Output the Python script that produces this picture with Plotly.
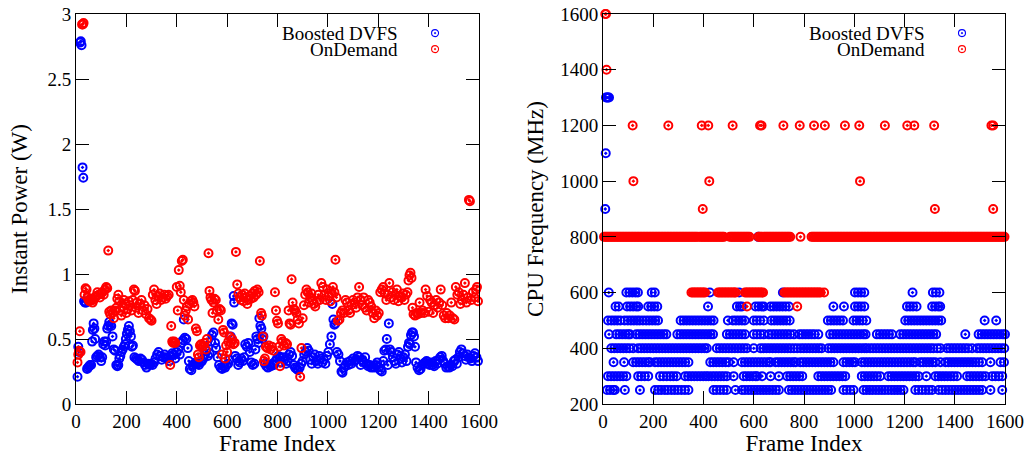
import plotly.graph_objects as go

# ---------------- Left panel: instant power (W) per frame ----------------
blue_power_frames = [
    6, 9, 12, 16, 19, 22, 26, 29, 32, 36,
    40, 44, 48, 52, 56, 60, 64, 67, 70, 73,
    76, 80, 85, 90, 95, 100, 104, 108, 112, 116,
    120, 124, 128, 132, 136, 140, 145, 150, 155, 160,
    164, 168, 172, 176, 180, 185, 190, 195, 198, 202,
    206, 210, 214, 218, 222, 226, 232, 238, 244, 250,
    256, 262, 268, 274, 280, 286, 292, 298, 304, 310,
    316, 322, 328, 334, 340, 346, 352, 358, 364, 370,
    376, 382, 388, 394, 400, 406, 412, 418, 424, 428,
    432, 438, 444, 448, 452, 458, 464, 470, 476, 482,
    488, 494, 500, 506, 512, 518, 524, 530, 536, 540,
    546, 552, 556, 562, 568, 574, 580, 586, 592, 598,
    604, 610, 614, 618, 622, 626, 628, 632, 638, 644,
    650, 656, 662, 668, 672, 678, 684, 690, 696, 702,
    708, 712, 716, 720, 724, 728, 732, 736, 740, 744,
    750, 756, 762, 768, 774, 780, 786, 792, 798, 804,
    810, 816, 822, 828, 834, 840, 846, 852, 858, 864,
    870, 876, 882, 888, 894, 900, 906, 912, 918, 924,
    930, 936, 942, 948, 954, 960, 966, 972, 978, 984,
    990, 996, 1002, 1008, 1014, 1018, 1022, 1026, 1030, 1036,
    1042, 1048, 1054, 1058, 1064, 1070, 1076, 1082, 1088, 1094,
    1100, 1106, 1112, 1118, 1124, 1130, 1136, 1142, 1148, 1154,
    1160, 1166, 1172, 1178, 1184, 1190, 1196, 1202, 1208, 1214,
    1220, 1224, 1230, 1234, 1238, 1242, 1246, 1252, 1258, 1264,
    1270, 1276, 1282, 1288, 1294, 1300, 1306, 1312, 1318, 1322,
    1326, 1330, 1334, 1338, 1342, 1346, 1350, 1356, 1362, 1368,
    1374, 1380, 1386, 1392, 1398, 1404, 1410, 1416, 1422, 1428,
    1434, 1440, 1446, 1452, 1458, 1464, 1470, 1476, 1482, 1488,
    1494, 1500, 1506, 1512, 1518, 1524, 1530, 1536, 1542, 1548,
    1554, 1560, 1566, 1572, 1578, 1584, 1590, 1596,
]
blue_power_watts = [
    0.21, 0.44, 0.40, 2.78, 2.79, 2.76, 1.82, 1.74, 0.79, 0.78,
    0.78, 0.27, 0.28, 0.29, 0.30, 0.30, 0.48, 0.57, 0.62, 0.58,
    0.50, 0.36, 0.37, 0.38, 0.36, 0.33, 0.36, 0.46, 0.48, 0.45,
    0.48, 0.58, 0.60, 0.63, 0.61, 0.60, 0.52, 0.42, 0.41, 0.30,
    0.29, 0.30, 0.35, 0.37, 0.40, 0.42, 0.44, 0.46, 0.50, 0.54,
    0.57, 0.60, 0.56, 0.52, 0.44, 0.45, 0.36, 0.35, 0.34, 0.33,
    0.35, 0.34, 0.32, 0.30, 0.28, 0.31, 0.30, 0.31, 0.30, 0.32,
    0.35, 0.38, 0.40, 0.37, 0.34, 0.36, 0.38, 0.36, 0.35, 0.33,
    0.37, 0.39, 0.38, 0.35, 0.40, 0.42, 0.38, 0.47, 0.49, 0.65,
    0.51, 0.50, 0.43, 0.33, 0.27, 0.26, 0.30, 0.31, 0.32, 0.31,
    0.30, 0.32, 0.33, 0.35, 0.38, 0.41, 0.37, 0.39, 0.48, 0.53,
    0.55, 0.47, 0.43, 0.36, 0.30, 0.28, 0.27, 0.29, 0.28, 0.30,
    0.31, 0.34, 0.52, 0.62, 0.61, 0.83, 0.78, 0.37, 0.35, 0.30,
    0.32, 0.35, 0.33, 0.36, 0.46, 0.44, 0.47, 0.40, 0.32, 0.30,
    0.31, 0.42, 0.52, 0.50, 0.47, 0.66, 0.60, 0.58, 0.50, 0.52,
    0.31, 0.29, 0.28, 0.30, 0.29, 0.31, 0.30, 0.33, 0.35, 0.37,
    0.36, 0.32, 0.36, 0.34, 0.31, 0.33, 0.38, 0.40, 0.37, 0.30,
    0.28, 0.27, 0.26, 0.28, 0.31, 0.33, 0.38, 0.40, 0.43, 0.41,
    0.34, 0.31, 0.36, 0.38, 0.33, 0.31, 0.37, 0.35, 0.32, 0.34,
    0.31, 0.37, 0.40, 0.46, 0.52, 0.77, 0.65, 0.61, 0.62, 0.40,
    0.38, 0.33, 0.25, 0.24, 0.28, 0.30, 0.32, 0.30, 0.33, 0.31,
    0.35, 0.33, 0.34, 0.37, 0.36, 0.30, 0.34, 0.32, 0.36, 0.31,
    0.29, 0.30, 0.28, 0.29, 0.28, 0.30, 0.32, 0.28, 0.26, 0.25,
    0.33, 0.41, 0.42, 0.50, 0.30, 0.62, 0.42, 0.40, 0.36, 0.33,
    0.31, 0.38, 0.40, 0.35, 0.32, 0.36, 0.38, 0.33, 0.44, 0.47,
    0.46, 0.53, 0.55, 0.55, 0.52, 0.44, 0.32, 0.28, 0.26, 0.27,
    0.30, 0.31, 0.32, 0.33, 0.31, 0.30, 0.32, 0.30, 0.29, 0.33,
    0.31, 0.34, 0.36, 0.37, 0.33, 0.31, 0.28, 0.29, 0.28, 0.30,
    0.29, 0.33, 0.34, 0.31, 0.36, 0.40, 0.42, 0.39, 0.37, 0.34,
    0.38, 0.36, 0.35, 0.33, 0.37, 0.39, 0.36, 0.33,
]

red_power_frames = [
    6, 9, 12, 15, 18, 24, 27, 30, 34, 38,
    42, 46, 50, 54, 58, 62, 66, 70, 75, 80,
    85, 90, 95, 100, 105, 110, 115, 120, 124, 128,
    132, 136, 140, 145, 150, 155, 160, 164, 168, 172,
    176, 180, 185, 190, 195, 200, 205, 210, 215, 220,
    225, 230, 234, 238, 242, 248, 254, 260, 266, 272,
    278, 284, 290, 296, 300, 305, 310, 315, 320, 326,
    332, 338, 344, 350, 356, 362, 368, 374, 378, 382,
    386, 390, 394, 400, 404, 408, 412, 416, 420, 424,
    428, 432, 436, 440, 445, 450, 456, 462, 466, 470,
    476, 480, 484, 488, 492, 496, 500, 505, 510, 515,
    520, 526, 530, 534, 538, 542, 546, 550, 555, 560,
    565, 570, 575, 580, 584, 588, 592, 596, 600, 605,
    610, 615, 620, 625, 630, 635, 640, 645, 650, 655,
    660, 665, 670, 675, 680, 685, 690, 695, 700, 705,
    710, 715, 720, 725, 730, 735, 738, 742, 746, 750,
    754, 760, 766, 772, 778, 784, 790, 794, 798, 802,
    806, 810, 815, 820, 826, 832, 838, 844, 848, 852,
    856, 860, 865, 870, 875, 880, 885, 890, 895, 900,
    905, 910, 915, 920, 925, 930, 935, 940, 945, 950,
    956, 962, 968, 974, 980, 986, 992, 998, 1004, 1010,
    1016, 1020, 1026, 1030, 1034, 1040, 1046, 1052, 1058, 1064,
    1070, 1076, 1082, 1088, 1094, 1100, 1106, 1112, 1118, 1124,
    1130, 1136, 1142, 1148, 1154, 1160, 1166, 1172, 1178, 1184,
    1190, 1196, 1202, 1208, 1214, 1220, 1226, 1232, 1238, 1244,
    1250, 1256, 1262, 1268, 1274, 1280, 1286, 1292, 1298, 1304,
    1310, 1316, 1320, 1324, 1328, 1332, 1336, 1340, 1346, 1352,
    1358, 1364, 1370, 1376, 1382, 1388, 1394, 1400, 1406, 1412,
    1418, 1424, 1430, 1436, 1442, 1448, 1454, 1460, 1466, 1472,
    1478, 1484, 1490, 1496, 1502, 1508, 1514, 1520, 1526, 1532,
    1538, 1544, 1550, 1556, 1560, 1564, 1570, 1576, 1582, 1588,
    1592, 1596,
]
red_power_watts = [
    0.32, 0.38, 0.41, 0.56, 0.40, 2.92, 2.92, 2.93, 0.84, 0.89,
    0.88, 0.82, 0.80, 0.79, 0.81, 0.80, 0.78, 0.80, 0.82, 0.83,
    0.86, 0.84, 0.82, 0.85, 0.86, 0.84, 0.88, 0.90, 0.89, 1.18,
    0.71, 0.69, 0.72, 0.70, 0.66, 0.72, 0.74, 0.81, 0.84, 0.79,
    0.72, 0.68, 0.75, 0.80, 0.77, 0.70, 0.73, 0.79, 0.76, 0.72,
    0.80, 0.88, 0.87, 0.74, 0.78, 0.70, 0.77, 0.80, 0.72, 0.76,
    0.69, 0.73, 0.66, 0.65, 0.64, 0.84, 0.88, 0.80, 0.77, 0.83,
    0.85, 0.80, 0.82, 0.84, 0.81, 0.83, 0.84, 0.30, 0.60, 0.48,
    0.47, 0.48, 0.47, 0.90, 0.72, 1.03, 0.91, 0.86, 1.10, 1.11,
    0.80, 0.68, 0.72, 0.75, 0.65, 0.77, 0.79, 0.80, 0.78, 0.75,
    0.58, 0.56, 0.38, 0.36, 0.45, 0.46, 0.44, 0.45, 0.47, 0.42,
    0.50, 1.16, 0.87, 0.82, 0.80, 0.70, 0.78, 0.81, 0.80, 0.72,
    0.65, 0.73, 0.72, 0.38, 0.57, 0.55, 0.35, 0.45, 0.40, 0.48,
    0.52, 0.47, 0.50, 0.46, 0.47, 1.17, 0.92, 0.85, 0.82, 0.80,
    0.84, 0.79, 0.85, 0.82, 0.77, 0.80, 0.83, 0.81, 0.85, 0.82,
    0.87, 0.84, 0.88, 0.86, 1.10, 0.70, 0.68, 0.52, 0.33, 0.35,
    0.44, 0.43, 0.45, 0.42, 0.44, 0.41, 0.86, 0.72, 0.64, 0.62,
    0.44, 0.29, 0.50, 0.48, 0.45, 0.47, 0.46, 0.72, 0.62, 0.61,
    0.96, 0.78, 0.73, 0.72, 0.70, 0.65, 0.62, 0.21, 0.43, 0.66,
    0.76, 0.84, 0.88, 0.86, 0.78, 0.82, 0.85, 0.80, 0.77, 0.75,
    0.79, 0.84, 0.80, 0.93, 0.90, 0.84, 0.80, 0.88, 0.83, 0.79,
    0.85, 0.90, 0.86, 1.11, 0.82, 0.64, 0.65, 0.70, 0.72, 0.70,
    0.80, 0.78, 0.72, 0.70, 0.76, 0.80, 0.78, 0.74, 0.82, 0.90,
    0.80, 0.76, 0.82, 0.74, 0.72, 0.80, 0.78, 0.75, 0.70, 0.66,
    0.72, 0.68, 0.70, 0.86, 0.88, 0.90, 0.85, 0.80, 0.84, 0.93,
    0.82, 0.86, 0.80, 0.84, 0.88, 0.79, 0.83, 0.82, 0.85, 0.80,
    0.84, 0.86, 0.95, 0.99, 1.01, 0.97, 0.74, 0.69, 0.68, 0.70,
    0.69, 0.78, 0.70, 0.72, 0.70, 0.88, 0.83, 0.71, 0.80, 0.78,
    0.70, 0.76, 0.80, 0.74, 0.78, 0.88, 0.76, 0.68, 0.66, 0.70,
    0.66, 0.68, 0.78, 0.66, 0.65, 0.90, 0.84, 0.86, 0.77, 0.80,
    0.84, 0.93, 0.78, 0.82, 1.57, 1.56, 0.80, 0.86, 0.82, 0.88,
    0.90, 0.79,
]

# ---------------- Right panel: CPU frequency (MHz) per frame ----------------
# Boosted DVFS: frames observed at each frequency level
blue_f250 = [16, 28, 40, 47, 87, 147, 207, 220, 232, 246, 258, 272, 285, 298, 312, 326, 340,
             440, 452, 466, 480, 493, 527, 553, 565, 578, 590, 602, 614, 626, 638, 650, 662,
             675, 688, 700, 740, 752, 764, 776, 788, 800, 812, 824, 836, 848, 860, 872, 884,
             896, 908, 957, 970, 984, 997, 1037, 1049, 1061, 1073, 1086, 1098, 1110, 1122,
             1135, 1148, 1160, 1172, 1184, 1196, 1243, 1256, 1270, 1284, 1297, 1310, 1336,
             1350, 1363, 1376, 1389, 1401, 1413, 1425, 1437, 1449, 1461, 1473, 1485, 1497,
             1509, 1542, 1589]
blue_f300 = [20, 32, 44, 56, 68, 80, 93, 140, 152, 166, 180, 227, 240, 254, 268, 280, 293,
             327, 339, 351, 363, 375, 387, 399, 410, 420, 433, 445, 457, 469, 481, 493, 520,
             560, 572, 584, 596, 607, 613, 633, 667, 700, 733, 745, 757, 769, 781, 793, 857,
             869, 881, 893, 905, 917, 929, 941, 953, 964, 1030, 1042, 1054, 1066, 1078, 1090,
             1103, 1136, 1148, 1160, 1172, 1184, 1196, 1208, 1220, 1232, 1244, 1256, 1287,
             1323, 1335, 1347, 1359, 1371, 1384, 1396, 1409, 1449, 1461, 1473, 1485, 1497,
             1509, 1522, 1549, 1562, 1575, 1589]
blue_f350 = [42, 84, 120, 132, 144, 156, 168, 180, 187, 207, 219, 231, 243, 255, 267, 279,
             291, 303, 315, 327, 340, 427, 439, 451, 463, 475, 488, 500, 520, 553, 565, 577,
             589, 601, 613, 625, 637, 649, 661, 667, 687, 699, 711, 723, 735, 747, 759, 767,
             785, 797, 809, 821, 833, 845, 857, 869, 881, 893, 905, 917, 957, 969, 981, 993,
             1003, 1030, 1042, 1054, 1066, 1078, 1090, 1102, 1114, 1126, 1138, 1150, 1162,
             1174, 1186, 1198, 1210, 1222, 1234, 1243, 1263, 1275, 1287, 1299, 1311, 1323,
             1343, 1363, 1375, 1387, 1399, 1411, 1423, 1435, 1447, 1459, 1471, 1483, 1496,
             1509, 1542, 1582, 1596]
blue_f400 = [33, 45, 57, 69, 81, 93, 105, 120, 140, 152, 164, 176, 188, 200, 212, 224, 236,
             248, 260, 272, 284, 296, 308, 320, 332, 344, 356, 368, 380, 392, 404, 413, 453,
             465, 477, 489, 501, 513, 525, 537, 549, 561, 573, 600, 627, 639, 651, 663, 675,
             687, 699, 711, 723, 735, 747, 760, 773, 787, 799, 811, 823, 835, 847, 859, 870,
             897, 909, 921, 933, 945, 957, 969, 981, 993, 1005, 1017, 1029, 1041, 1050, 1063,
             1075, 1087, 1099, 1111, 1123, 1135, 1147, 1159, 1171, 1183, 1195, 1207, 1219,
             1231, 1243, 1255, 1267, 1279, 1291, 1303, 1315, 1330, 1343, 1369, 1381, 1393,
             1405, 1417, 1429, 1441, 1453, 1469, 1489, 1501, 1513, 1525, 1537, 1549, 1561,
             1573, 1585, 1597]
blue_f450 = [24, 53, 65, 77, 89, 100, 107, 133, 145, 157, 169, 181, 193, 205, 217, 229, 241,
             252, 296, 308, 320, 332, 344, 356, 368, 380, 392, 404, 416, 428, 438, 493, 505,
             517, 529, 541, 553, 565, 600, 613, 626, 640, 660, 673, 685, 697, 709, 721, 733,
             745, 760, 782, 794, 806, 818, 830, 842, 857, 904, 916, 928, 940, 952, 964, 976,
             988, 1000, 1012, 1024, 1036, 1045, 1090, 1102, 1114, 1126, 1138, 1150, 1183,
             1195, 1207, 1219, 1231, 1243, 1255, 1267, 1279, 1291, 1303, 1315, 1326, 1442,
             1495, 1507, 1519, 1531, 1543, 1555, 1567, 1579, 1591, 1600]
blue_f500 = [20, 33, 45, 57, 69, 86, 99, 111, 123, 135, 146, 159, 172, 184, 196, 208, 219,
             309, 321, 333, 345, 357, 369, 381, 393, 405, 417, 429, 440, 497, 517, 529, 541,
             553, 564, 600, 612, 625, 640, 670, 682, 694, 706, 718, 730, 743, 895, 907, 919,
             931, 943, 955, 997, 1009, 1021, 1033, 1048, 1203, 1215, 1227, 1239, 1251, 1263,
             1275, 1287, 1299, 1311, 1323, 1335, 1346, 1519, 1565]
blue_f550 = [50, 62, 96, 108, 120, 132, 140, 180, 192, 204, 216, 418, 533, 545, 553, 607,
             619, 631, 640, 667, 679, 691, 703, 715, 727, 740, 917, 959, 1003, 1015, 1027,
             1040, 1210, 1222, 1234, 1248, 1310, 1322, 1334, 1342]
blue_f600 = [23, 93, 105, 117, 129, 139, 194, 206, 425, 542, 716, 1003, 1015, 1027, 1040,
             1232, 1313, 1325, 1339]
blue_high_frames = [9, 11, 12, 16, 20, 24, 618]
blue_high_mhz = [900, 1100, 1300, 1300, 1300, 1300, 800]

# OnDemand: frames observed at each frequency level
red_f800 = [4, 10, 16, 22, 28, 34, 40, 46, 52, 58, 64, 70, 76, 82, 88, 94, 100, 106, 112, 118,
            124, 130, 136, 142, 148, 154, 160, 166, 172, 178, 184, 190, 196, 202, 208, 214,
            220, 226, 232, 238, 244, 250, 256, 262, 268, 274, 280, 286, 292, 298, 304, 310,
            316, 322, 328, 334, 340, 346, 352, 358, 364, 370, 376,
            385, 391, 397, 403, 409, 415, 421, 427, 433, 439, 445, 451, 457, 463, 469, 475, 481,
            505, 511, 517, 523, 529, 535, 541, 547, 553, 559, 565, 571, 577, 583,
            619, 625, 631, 637, 643, 649, 655, 661, 667, 673, 679, 685, 691, 697, 703, 709,
            715, 721, 727, 733, 739, 745, 786,
            830, 836, 842, 848, 854, 860, 866, 872, 878, 884, 890, 896, 902, 908, 914, 920,
            926, 932, 938, 944, 950, 956, 962, 968, 974, 980, 986, 992, 998, 1004, 1010,
            1016, 1022, 1028, 1034, 1040, 1046, 1052, 1058, 1064, 1070, 1076, 1082, 1088,
            1094, 1100, 1106, 1112, 1118, 1124, 1130, 1136, 1142, 1148, 1154, 1160, 1166,
            1172, 1178, 1184, 1190, 1196, 1202, 1208, 1214, 1220, 1226, 1232, 1238, 1244,
            1250, 1256, 1262, 1268, 1274, 1280, 1286, 1292, 1298, 1304, 1310, 1316, 1322,
            1328, 1334, 1340, 1346, 1352, 1358, 1364, 1370, 1376, 1382, 1388, 1394, 1400,
            1406, 1412, 1418, 1424, 1430, 1436, 1442, 1448, 1454, 1460, 1466, 1472, 1478,
            1484, 1490, 1496, 1502, 1508, 1514, 1520, 1526, 1532, 1538, 1544, 1550, 1556,
            1562, 1568, 1574, 1580, 1586, 1592, 1598]
red_f600 = [352, 358, 364, 370, 376, 382, 388, 394, 400, 406,
            458, 464, 470, 476, 482, 488, 494, 500, 506, 512, 518, 524, 528,
            565, 571, 577, 583, 589, 595, 601, 607, 613, 619, 625, 631, 637,
            722, 728, 734, 740, 746, 752, 758, 764, 770, 776, 782, 788, 794, 800, 806,
            812, 818, 824, 830, 836, 842, 848, 854, 860, 866, 880]
red_f1200 = [118, 260, 393, 419, 516, 625, 631, 718, 783, 840, 883, 963, 1020, 1122, 1211,
             1239, 1318, 1546, 1553]
red_f1000 = [121, 423, 1023]
red_f900 = [397, 1321, 1553]
red_f550 = [573, 773]
red_f1400 = [14]
red_f1600 = [9, 12]

# ---------------- assemble ----------------
blue_levels = [(250, blue_f250), (300, blue_f300), (350, blue_f350), (400, blue_f400),
               (450, blue_f450), (500, blue_f500), (550, blue_f550), (600, blue_f600)]
blue_freq_frames, blue_freq_mhz = [], []
for lvl, frames in blue_levels:
    blue_freq_frames += frames
    blue_freq_mhz += [lvl] * len(frames)
blue_freq_frames += blue_high_frames
blue_freq_mhz += blue_high_mhz

red_levels = [(800, red_f800), (600, red_f600), (1200, red_f1200), (1000, red_f1000),
              (900, red_f900), (550, red_f550), (1400, red_f1400), (1600, red_f1600)]
red_freq_frames, red_freq_mhz = [], []
for lvl, frames in red_levels:
    red_freq_frames += frames
    red_freq_mhz += [lvl] * len(frames)

BLUE = "#0000ff"
RED = "#ff0000"
FONT = "Liberation Serif, Times New Roman, Times, DejaVu Serif, serif"

def mk(color):
    return dict(symbol="circle-open-dot", size=8, color=color, line=dict(width=2, color=color))

fig = go.Figure()
fig.add_trace(go.Scatter(x=blue_power_frames, y=blue_power_watts, mode="markers", name="Boosted DVFS",
                         marker=mk(BLUE), xaxis="x", yaxis="y", cliponaxis=False, showlegend=False))
fig.add_trace(go.Scatter(x=red_power_frames, y=red_power_watts, mode="markers", name="OnDemand",
                         marker=mk(RED), xaxis="x", yaxis="y", cliponaxis=False, showlegend=False))
fig.add_trace(go.Scatter(x=blue_freq_frames, y=blue_freq_mhz, mode="markers", name="Boosted DVFS",
                         marker=mk(BLUE), xaxis="x2", yaxis="y2", cliponaxis=False, showlegend=False))
fig.add_trace(go.Scatter(x=red_freq_frames, y=red_freq_mhz, mode="markers", name="OnDemand",
                         marker=mk(RED), xaxis="x2", yaxis="y2", cliponaxis=False, showlegend=False))

W, H = 1027, 456
ML, MR, MT, MB = 76, 22, 14, 52
pw = W - ML - MR
left_dom = [0, (479 - ML) / pw]
right_dom = [(603 - ML) / pw, 1]

axis_common = dict(
    showline=True, linecolor="black", linewidth=1, mirror="ticks",
    ticks="inside", ticklen=13, tickwidth=1, tickcolor="black",
    showgrid=False, zeroline=False, automargin=False,
    tickfont=dict(family=FONT, size=19, color="black"),
)
frame_ticks = [0, 200, 400, 600, 800, 1000, 1200, 1400, 1600]
title_font = dict(family=FONT, size=23, color="black")

fig.update_layout(
    width=W, height=H,
    margin=dict(l=ML, r=MR, t=MT, b=MB, autoexpand=False),
    paper_bgcolor="white", plot_bgcolor="white",
    font=dict(family=FONT, color="black"),
    showlegend=False,
    xaxis=dict(domain=left_dom, range=[0, 1600], tickvals=frame_ticks, anchor="y",
               title=dict(text="Frame Index", font=title_font, standoff=6), **axis_common),
    yaxis=dict(domain=[0, 1], range=[0, 3], dtick=0.5, anchor="x",
               title=dict(text="Instant Power (W)", font=title_font, standoff=13), **axis_common),
    xaxis2=dict(domain=right_dom, range=[0, 1600], tickvals=frame_ticks, anchor="y2",
                title=dict(text="Frame Index", font=title_font, standoff=6), **axis_common),
    yaxis2=dict(domain=[0, 1], range=[200, 1600], dtick=200, anchor="x2",
                title=dict(text="CPU Frequency (MHz)", font=title_font, standoff=10), **axis_common),
)

# gnuplot-style key: right-aligned labels with the symbol to their right
legend_rows = [("Boosted DVFS", BLUE, 0.951), ("OnDemand", RED, 0.910)]
for xr, yr, tx, sx in [("x domain", "y domain", 0.804, 0.891), ("x2 domain", "y2 domain", 0.806, 0.893)]:
    for label, color, yy in legend_rows:
        fig.add_annotation(text=label, xref=xr, yref=yr, x=tx, y=yy, xanchor="right", yanchor="middle",
                           showarrow=False, font=dict(family=FONT, size=19, color="black"))
        fig.add_shape(type="circle", xref=xr, yref=yr, xsizemode="pixel", ysizemode="pixel",
                      xanchor=sx, yanchor=yy, x0=-3.5, x1=3.5, y0=-3.5, y1=3.5,
                      line=dict(color=color, width=1.1))
        fig.add_shape(type="circle", xref=xr, yref=yr, xsizemode="pixel", ysizemode="pixel",
                      xanchor=sx, yanchor=yy, x0=-0.7, x1=0.7, y0=-0.7, y1=0.7,
                      line=dict(color=color, width=0.8), fillcolor=color)

# remove the default 8px page margin so the figure fills the window exactly
fig.write_html("out.html", config={"displayModeBar": False},
               post_script="document.body.style.margin='0px';")
